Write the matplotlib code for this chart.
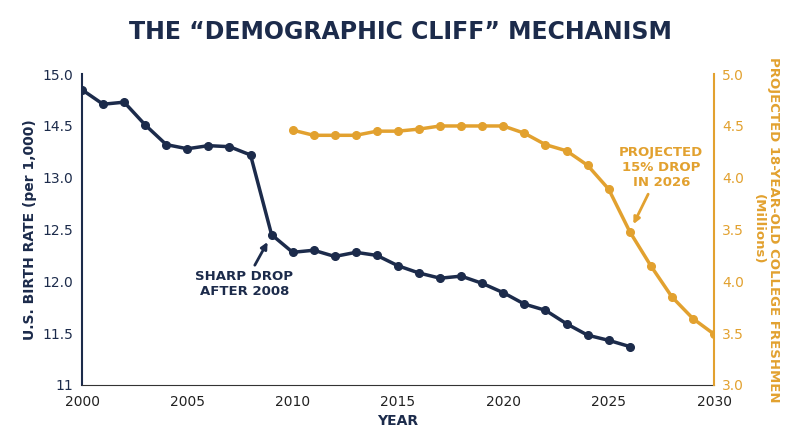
import matplotlib
matplotlib.use("Agg")
import matplotlib.pyplot as plt

years_birth = list(range(2000, 2027))
birth_rate = [13.85, 13.71, 13.73, 13.51, 13.32, 13.28, 13.31, 13.30, 13.22, 12.45,
              12.28, 12.30, 12.24, 12.28, 12.25, 12.15, 12.08, 12.03, 12.05, 11.98,
              11.89, 11.78, 11.72, 11.59, 11.48, 11.43, 11.37]
years_fresh = list(range(2010, 2031))
freshmen = [4.46, 4.41, 4.41, 4.41, 4.45, 4.45, 4.47, 4.50, 4.50, 4.50, 4.50,
            4.43, 4.32, 4.26, 4.12, 3.89, 3.48, 3.15, 2.85, 2.64, 2.49]
left_ticks = [11, 11.5, 12, 12.5, 13, 13.5, 14]
left_labels = ["11", "11.5", "12.0", "12.5", "13.0", "14.5", "15.0"]
right_ticks = [2.0, 2.5, 3.0, 3.5, 4.0, 4.5, 5.0]
right_labels = ["3.0", "3.5", "4.0", "3.5", "4.0", "4.5", "5.0"]

navy = "#1c2b4b"
gold = "#e2a12f"
plt.rcParams['font.family'] = ['DejaVu Sans']

fig = plt.figure(figsize=(8, 4.47), dpi=100)
ax = fig.add_axes([0.1025, 0.139, 0.79, 0.695])
ax2 = ax.twinx()

ax.plot(years_birth, birth_rate, color=navy, lw=2.5, marker='o', ms=5.5, zorder=3)
ax2.plot(years_fresh, freshmen, color=gold, lw=2.5, marker='o', ms=5.5, zorder=3)

ax.set_xlim(2000, 2030)
ax.set_ylim(11, 14)
ax2.set_ylim(2.0, 5.0)
ax.set_xticks([2000, 2005, 2010, 2015, 2020, 2025, 2030])
ax.set_yticks(left_ticks)
ax.set_yticklabels(left_labels)
ax2.set_yticks(right_ticks)
ax2.set_yticklabels(right_labels)

for s in ['top', 'right']:
    ax.spines[s].set_visible(False)
ax2.spines['top'].set_visible(False)
ax2.spines['left'].set_visible(False)
ax2.spines['bottom'].set_visible(False)
ax.spines['left'].set_color(navy)
ax.spines['left'].set_linewidth(1.5)
ax.spines['bottom'].set_color('#333333')
ax2.spines['right'].set_color(gold)
ax2.spines['right'].set_linewidth(1.5)
ax.tick_params(axis='y', colors=navy, labelsize=10, length=0, pad=6)
ax.tick_params(axis='x', colors='#222222', labelsize=10, length=0, pad=7)
ax2.tick_params(axis='y', colors=gold, labelsize=10, length=0, pad=6)

ax.set_xlabel("YEAR", fontsize=10, fontweight='bold', color=navy, labelpad=4)
ax.set_ylabel("U.S. BIRTH RATE (per 1,000)", fontsize=10, fontweight='bold', color=navy)
ax2.set_ylabel("PROJECTED 18-YEAR-OLD COLLEGE FRESHMEN\n(Millions)", fontsize=9.5,
               fontweight='bold', color=gold, rotation=270, labelpad=26)

fig.suptitle("THE \u201cDEMOGRAPHIC CLIFF\u201d MECHANISM", fontsize=17, fontweight='bold',
             color=navy, y=0.955)

ax.annotate("SHARP DROP\nAFTER 2008", xy=(2009, 12.45), xytext=(2007.7, 11.97),
            ha='center', va='center', fontsize=9.5, fontweight='bold', color=navy,
            arrowprops=dict(arrowstyle='-|>', color=navy, lw=2, shrinkB=6))
ax2.annotate("PROJECTED\n15% DROP\nIN 2026", xy=(2026, 3.48), xytext=(2027.5, 4.1),
             ha='center', va='center', fontsize=9.5, fontweight='bold', color=gold,
             arrowprops=dict(arrowstyle='-|>', color=gold, lw=2, shrinkB=6))

fig.savefig("out.png", dpi=100)
